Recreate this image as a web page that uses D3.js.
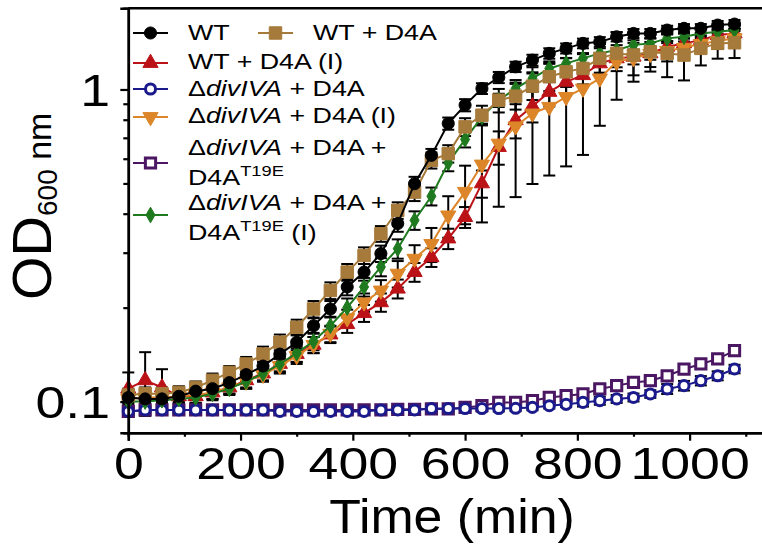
<!DOCTYPE html>
<html lang="en">
<head>
<meta charset="UTF-8">
<title>OD600 growth curves</title>
<style>
  body { margin: 0; background: #fff; }
  svg text { font-family: "Liberation Sans", Arial, sans-serif; fill: #000; }
</style>
</head>
<body>
<script src="https://cdn.jsdelivr.net/npm/d3@7/dist/d3.min.js"></script>
<script>
// sampling times (min)
const time = [0, 30, 60, 90, 120, 150, 180, 210, 240, 270, 300, 330, 360, 390, 420, 450, 480, 510, 540,
  570, 600, 630, 660, 690, 720, 750, 780, 810, 840, 870, 900, 930, 960, 990, 1020, 1050, 1080];

// OD600 means
const wt = [0.103, 0.102, 0.102, 0.104, 0.108, 0.110, 0.115, 0.122, 0.130, 0.142, 0.155, 0.175, 0.198, 0.233, 0.260, 0.298, 0.372, 0.499, 0.615,
  0.778, 0.891, 1.007, 1.093, 1.182, 1.242, 1.305, 1.354, 1.405, 1.421, 1.475, 1.512, 1.512, 1.550, 1.570, 1.570, 1.608, 1.620];
const wtD4A = [0.105, 0.106, 0.106, 0.107, 0.111, 0.117, 0.124, 0.132, 0.142, 0.155, 0.173, 0.198, 0.227, 0.260, 0.294, 0.345, 0.410, 0.469, 0.593,
  0.623, 0.759, 0.827, 0.924, 0.952, 1.025, 1.098, 1.139, 1.168, 1.258, 1.305, 1.289, 1.321, 1.305, 1.289, 1.354, 1.405, 1.411];
const wtD4AI = [0.110, 0.117, 0.111, 0.104, 0.104, 0.107, 0.111, 0.117, 0.123, 0.132, 0.142, 0.152, 0.164, 0.177, 0.192, 0.208, 0.230, 0.260, 0.290,
  0.333, 0.390, 0.500, 0.654, 0.797, 0.884, 0.982, 1.058, 1.111, 1.212, 1.258, 1.273, 1.305, 1.370, 1.405, 1.439, 1.494, 1.512];
const divD4A = [0.093, 0.094, 0.094, 0.094, 0.094, 0.094, 0.094, 0.094, 0.094, 0.093, 0.093, 0.093, 0.093, 0.093, 0.093, 0.094, 0.094, 0.094, 0.095,
  0.095, 0.095, 0.095, 0.095, 0.0952, 0.0958, 0.097, 0.098, 0.0994, 0.1007, 0.102, 0.1031, 0.1058, 0.1098, 0.1125, 0.1167, 0.121, 0.1272];
const divD4AI = [0.102, 0.103, 0.103, 0.104, 0.105, 0.107, 0.111, 0.116, 0.122, 0.130, 0.140, 0.152, 0.165, 0.185, 0.208, 0.227, 0.257, 0.287, 0.320,
  0.395, 0.470, 0.575, 0.671, 0.762, 0.838, 0.880, 0.947, 1.007, 1.085, 1.227, 1.260, 1.300, 1.330, 1.360, 1.400, 1.430, 1.460];
const divT19E = [0.093, 0.094, 0.094, 0.094, 0.094, 0.094, 0.094, 0.094, 0.094, 0.094, 0.094, 0.094, 0.094, 0.094, 0.094, 0.094, 0.0945, 0.0945, 0.0947,
  0.0947, 0.0958, 0.097, 0.0994, 0.0994, 0.1007, 0.1031, 0.1045, 0.1058, 0.1098, 0.1125, 0.1152, 0.1167, 0.121, 0.127, 0.132, 0.137, 0.1457];
const divT19EI = [0.100, 0.100, 0.101, 0.102, 0.103, 0.106, 0.110, 0.116, 0.123, 0.132, 0.143, 0.156, 0.175, 0.200, 0.233, 0.270, 0.309, 0.381, 0.455,
  0.582, 0.692, 0.817, 0.924, 1.007, 1.085, 1.168, 1.212, 1.258, 1.305, 1.337, 1.388, 1.405, 1.458, 1.475, 1.512, 1.530, 1.550];

// SD
const wtSd = [0.004, 0.005, 0.005, 0.005, 0.005, 0.005, 0.006, 0.006, 0.007, 0.008, 0.009, 0.010, 0.012, 0.014, 0.016, 0.018, 0.022, 0.026, 0.030,
  0.035, 0.040, 0.040, 0.045, 0.045, 0.050, 0.050, 0.050, 0.050, 0.050, 0.050, 0.050, 0.050, 0.050, 0.050, 0.050, 0.050, 0.050];
const wtD4ASd = [0.005, 0.005, 0.005, 0.005, 0.005, 0.006, 0.006, 0.007, 0.008, 0.009, 0.010, 0.012, 0.014, 0.016, 0.018, 0.020, 0.025, 0.030, 0.035,
  0.040, 0.050, 0.060, 0.080, 0.090, 0.100, 0.110, 0.120, 0.130, 0.140, 0.160, 0.230, 0.180, 0.210, 0.220, 0.160, 0.150, 0.150];
const wtD4AISd = [0.014, 0.027, 0.016, 0.005, 0.005, 0.005, 0.005, 0.006, 0.006, 0.007, 0.008, 0.009, 0.010, 0.011, 0.012, 0.014, 0.016, 0.018, 0.020,
  0.025, 0.030, 0.050, 0.080, 0.100, 0.100, 0.100, 0.100, 0.090, 0.080, 0.080, 0.070, 0.060, 0.060, 0.050, 0.050, 0.050, 0.050];
const divD4ASd = [0.002, 0.002, 0.002, 0.002, 0.002, 0.002, 0.002, 0.002, 0.002, 0.002, 0.002, 0.002, 0.002, 0.002, 0.002, 0.002, 0.002, 0.002, 0.002,
  0.002, 0.002, 0.002, 0.002, 0.002, 0.002, 0.002, 0.002, 0.003, 0.003, 0.003, 0.003, 0.003, 0.004, 0.004, 0.004, 0.004, 0.004];
const divD4AISd = [0.004, 0.004, 0.004, 0.004, 0.004, 0.005, 0.005, 0.006, 0.006, 0.007, 0.008, 0.009, 0.010, 0.012, 0.014, 0.018, 0.025, 0.030, 0.040,
  0.060, 0.100, 0.200, 0.250, 0.310, 0.340, 0.350, 0.380, 0.390, 0.320, 0.300, 0.150, 0.120, 0.100, 0.100, 0.080, 0.080, 0.080];
const divT19ESd = [0.002, 0.002, 0.002, 0.002, 0.002, 0.002, 0.002, 0.002, 0.002, 0.002, 0.002, 0.002, 0.002, 0.002, 0.002, 0.002, 0.002, 0.002, 0.002,
  0.002, 0.002, 0.002, 0.002, 0.002, 0.002, 0.002, 0.002, 0.003, 0.003, 0.003, 0.003, 0.003, 0.003, 0.003, 0.003, 0.003, 0.003];
const divT19EISd = [0.004, 0.004, 0.004, 0.004, 0.004, 0.005, 0.005, 0.006, 0.007, 0.008, 0.009, 0.010, 0.012, 0.014, 0.016, 0.018, 0.022, 0.026, 0.030,
  0.035, 0.040, 0.040, 0.045, 0.045, 0.050, 0.050, 0.050, 0.050, 0.050, 0.050, 0.050, 0.050, 0.050, 0.050, 0.050, 0.050, 0.050];

// tick labels
const xTickLabels = [0, 200, 400, 600, 800, 1000];
const xMinorTicks = [100, 300, 500, 700, 900, 1100];
const yTickLabels = [0.1, 1];
const yMinorTicks = [0.2, 0.3, 0.4, 0.5, 0.6, 0.7, 0.8, 0.9];

const width = 762, height = 544;
const svg = d3.select("body").append("svg")
  .attr("width", width).attr("height", height);

const x = d3.scaleLinear().domain([0, 1140]).range([128.3, 768.2]);
const y = d3.scaleLog().domain([0.0795, 1.82]).range([432.7, 8.3]);

// text in the figure is drawn a bit wide
const wide = 1.22;

// series (draw order: back to front)
const series = [
  { name: "divT19E", v: divT19E, sd: divT19ESd, color: "#4b1763", sym: d3.symbolSquare, size: 105, open: true },
  { name: "divD4A", v: divD4A, sd: divD4ASd, color: "#1a1a8c", sym: d3.symbolCircle, size: 80, open: true },
  { name: "wtD4AI", v: wtD4AI, sd: wtD4AISd, color: "#bb1218", sym: d3.symbolTriangle, size: 100 },
  { name: "divD4AI", v: divD4AI, sd: divD4AISd, color: "#dc8629", sym: d3.symbolTriangle, size: 100, rot: 180 },
  { name: "divT19EI", v: divT19EI, sd: divT19EISd, color: "#1f7a1f", sym: d3.symbolDiamond, size: 70 },
  { name: "wtD4A", v: wtD4A, sd: wtD4ASd, color: "#a67a3a", sym: d3.symbolSquare, size: 155 },
  { name: "wt", v: wt, sd: wtSd, color: "#000000", sym: d3.symbolCircle, size: 115 }
];

// error bars (black)
const eb = svg.append("g").attr("stroke", "#000").attr("stroke-width", 2);
series.forEach(s => {
  time.forEach((t, i) => {
    const cx = x(t), lo = y(s.v[i] - s.sd[i]), hi = y(s.v[i] + s.sd[i]);
    eb.append("line").attr("x1", cx).attr("x2", cx).attr("y1", lo).attr("y2", hi);
    eb.append("line").attr("x1", cx - 6).attr("x2", cx + 6).attr("y1", lo).attr("y2", lo);
    eb.append("line").attr("x1", cx - 6).attr("x2", cx + 6).attr("y1", hi).attr("y2", hi);
  });
});

const line = d3.line().x((d, i) => x(time[i])).y(d => y(d));

function marker(g, s, cx, cy) {
  g.append("path")
    .attr("d", d3.symbol().type(s.sym).size(s.size)())
    .attr("transform", `translate(${cx},${cy})` + (s.rot ? ` rotate(${s.rot})` : ""))
    .attr("fill", s.open ? "#fff" : s.color)
    .attr("stroke", s.color)
    .attr("stroke-width", s.open ? 3 : 1);
}

series.forEach(s => {
  const g = svg.append("g");
  g.append("path").datum(s.v).attr("d", line)
    .attr("fill", "none").attr("stroke", s.color).attr("stroke-width", 2);
  s.v.forEach((v, i) => marker(g, s, x(time[i]), y(v)));
});

// frame top + axes
svg.append("line").attr("x1", 128.3).attr("x2", 770).attr("y1", 8.3).attr("y2", 8.3)
  .attr("stroke", "#000").attr("stroke-width", 2.5);

const xAxis = svg.append("g").attr("transform", "translate(0,432.7)")
  .call(d3.axisBottom(x).tickValues(xTickLabels).tickSize(8).tickFormat(d3.format("d")));
svg.append("g").attr("transform", "translate(0,432.7)")
  .call(d3.axisBottom(x).tickValues(xMinorTicks).tickSize(4).tickFormat(""));
const yAxis = svg.append("g").attr("transform", "translate(128.3,0)")
  .call(d3.axisLeft(y).tickValues(yTickLabels).tickSize(8).tickFormat(d => d));
svg.append("g").attr("transform", "translate(128.3,0)")
  .call(d3.axisLeft(y).tickValues(yMinorTicks).tickSize(5).tickFormat(""));

svg.selectAll(".domain").attr("stroke-width", 2.5);
svg.selectAll(".tick line").attr("stroke-width", 2.2);
xAxis.selectAll(".tick text").attr("font-size", 44).attr("y", 46).attr("dy", 0)
  .attr("transform", `scale(${wide},1)`);
yAxis.selectAll(".tick text").attr("font-size", 44).attr("x", -15).attr("dy", "0.36em")
  .attr("transform", `scale(${wide},1)`);
svg.selectAll(".tick text").style("font-family", "'Liberation Sans', Arial, sans-serif");

// axis titles
svg.append("text").attr("transform", "translate(452,533) scale(1.08,1)")
  .attr("text-anchor", "middle").attr("font-size", 48).text("Time (min)");
const yl = svg.append("text")
  .attr("transform", "translate(51,300) rotate(-90)");
yl.append("tspan").attr("font-size", 56).text("OD");
yl.append("tspan").attr("font-size", 28).attr("dy", 6).text("600");
yl.append("tspan").attr("font-size", 34).attr("dy", -6).text(" nm");

// legend
const legend = [
  { s: "wt", x: 133, y: 33, lines: [[["WT"]]], ty: [40] },
  { s: "wtD4A", x: 258, y: 33, lines: [[["WT + D4A"]]], ty: [40] },
  { s: "wtD4AI", x: 133, y: 63, lines: [[["WT + D4A (I)"]]], ty: [69] },
  { s: "divD4A", x: 133, y: 89, lines: [[["\u0394"], ["divIVA", "i"], [" + D4A"]]], ty: [96] },
  { s: "divD4AI", x: 133, y: 117, lines: [[["\u0394"], ["divIVA", "i"], [" + D4A (I)"]]], ty: [123] },
  { s: "divT19E", x: 133, y: 163, lines: [[["\u0394"], ["divIVA", "i"], [" + D4A +"]], [["D4A"], ["T19E", "sup"]]], ty: [155, 185] },
  { s: "divT19EI", x: 133, y: 215, lines: [[["\u0394"], ["divIVA", "i"], [" + D4A +"]], [["D4A"], ["T19E", "sup"], [" (I)", "sub"]]], ty: [210, 240] }
];
const lg = svg.append("g");
legend.forEach(e => {
  const s = series.find(d => d.name === e.s);
  lg.append("line").attr("x1", e.x).attr("x2", e.x + 35).attr("y1", e.y).attr("y2", e.y)
    .attr("stroke", s.color).attr("stroke-width", 2);
  marker(lg, s, e.x + 17.5, e.y);
  e.lines.forEach((parts, li) => {
    const t = lg.append("text")
      .attr("transform", `translate(${e.x + 55},${e.ty[li]}) scale(${wide},1)`)
      .attr("font-size", 22);
    parts.forEach(p => {
      const ts = t.append("tspan").text(p[0]);
      if (p[1] === "i") ts.attr("font-style", "italic");
      if (p[1] === "sup") ts.attr("font-size", 15).attr("dy", -9);
      if (p[1] === "sub") ts.attr("dy", 9);
    });
  });
});
</script>
</body>
</html>
